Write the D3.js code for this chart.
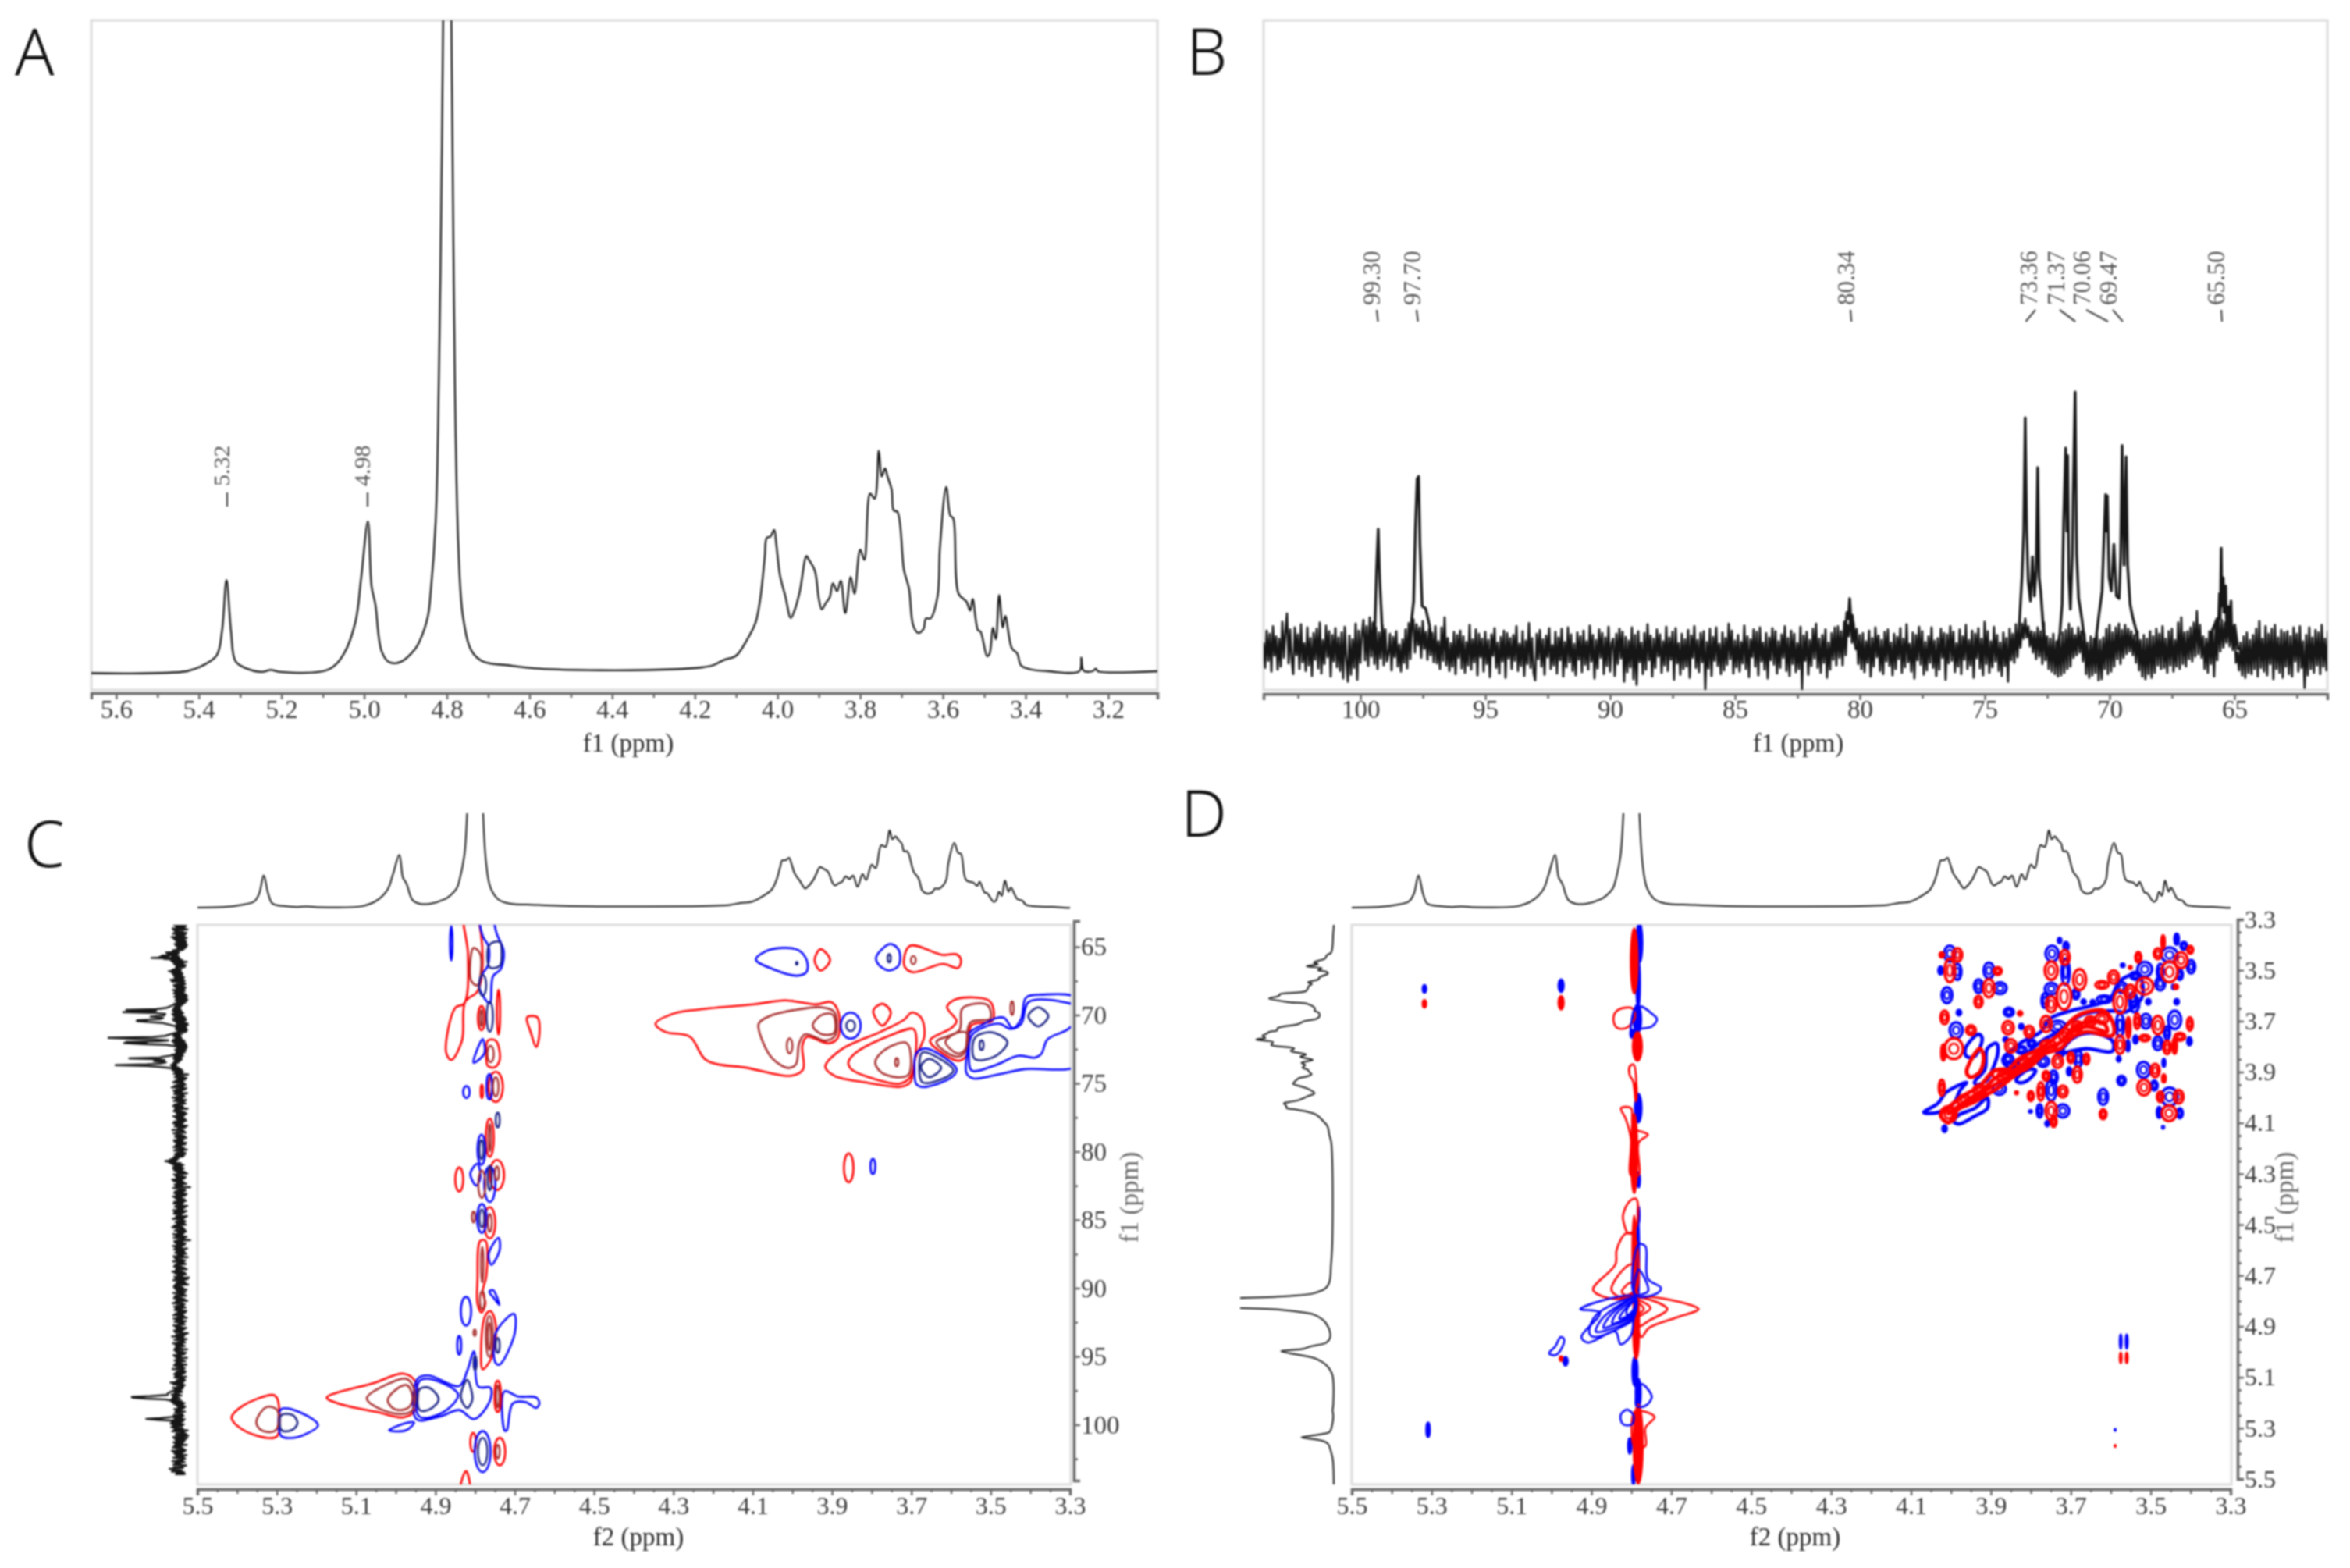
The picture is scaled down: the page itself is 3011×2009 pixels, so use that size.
<!DOCTYPE html>
<html><head><meta charset="utf-8">
<script src="https://cdn.jsdelivr.net/npm/d3@7"></script>
<style>
html,body{margin:0;padding:0;background:#fff}
svg{display:block;filter:blur(1px)}
text{font-family:"Liberation Serif",serif;fill:#3a3a3a}
.letter{font-family:"Noto Sans",sans-serif;font-weight:300;font-size:83px;fill:#111}
</style></head><body>
<svg id="c" width="3011" height="2009"></svg>
<script>
// ---------- 1H spectrum (ppm, relative intensity) ----------
const protonPpm=[5.661,5.429,5.393,5.357,5.344,5.333,5.322,5.311,5.284,5.248,5.226,5.203,5.085,5.049,5.021,5.007,4.991,4.982,4.973,4.958,4.940,4.913,4.877,4.866,4.846,4.839,4.827,4.819,4.812,4.809,4.800,4.789,4.785,4.780,4.772,4.761,4.740,4.713,4.650,4.578,4.433,4.252,4.182,4.157,4.131,4.100,4.075,4.053,4.041,4.031,4.026,4.017,4.008,4.003,3.994,3.981,3.968,3.958,3.946,3.930,3.924,3.910,3.900,3.893,3.883,3.874,3.866,3.856,3.847,3.836,3.823,3.814,3.800,3.790,3.776,3.765,3.755,3.748,3.740,3.734,3.724,3.719,3.710,3.694,3.682,3.672,3.660,3.647,3.641,3.630,3.613,3.607,3.592,3.582,3.575,3.562,3.543,3.534,3.528,3.515,3.509,3.493,3.487,3.479,3.472,3.464,3.455,3.449,3.433,3.420,3.411,3.389,3.345,3.270,3.265,3.260,3.238,3.230,3.225,3.081];
const protonI=[-0.3,0,0.8,2.4,6.1,14,6.1,1.5,0.4,-0.1,0.2,-0.1,0.3,2.7,7.6,14.5,23,13,10.3,3.1,1.4,1.4,3.4,4.6,8.4,12.2,23,46,80,100,150,100,72,42,19,8.4,3.1,1.5,0.9,0.4,0.15,0.3,0.6,0.9,1.7,2.4,4.7,7.5,11.5,17.5,20.5,20.7,21.7,19.5,14.7,11.5,8.2,9.5,12.3,17.7,17.1,15.5,11.1,9.5,10.5,11.3,13.5,12.3,13.9,8.9,14.5,11.9,18.7,17.1,27.3,26.5,33.9,29.9,31.2,29.9,27.9,24.7,24.5,15.5,12.7,7.1,5.9,6.5,8.1,8.1,11.5,19.1,28.3,23.9,23.5,11.9,10.7,9.3,11.1,6.3,6.1,2.3,2.7,6.7,4.9,11.7,6.7,8.5,3.5,2.7,0.9,0.3,0,0,2.1,0.1,0,0.4,0,0];
const protonTicks=[5.6,5.4,5.2,5.0,4.8,4.6,4.4,4.2,4.0,3.8,3.6,3.4,3.2];
const protonMinor=[5.5,5.3,5.1,4.9,4.7,4.5,4.3,4.1,3.9,3.7,3.5,3.3];
const protonPeaks=[5.32,4.98];
const protonPeakLabels=["5.32","4.98"];

// ---------- 13C spectrum: baseline noise, one row per ppm, tenths of an intensity unit, from 103.88 ppm down ----------
const noiseStart=103.88, noiseStep=0.0625;
const carbonNoise=[
12,-28,31,-17,26,-34,38,-9,22,-31,18,-26,45,-12,29,58,
-21,33,-14,-38,36,-8,25,-30,41,-19,11,-33,36,-24,19,-41,
27,-15,34,-29,44,-37,16,-22,39,-11,30,-42,24,-18,35,-27,
20,-33,28,-45,37,-14,-50,23,-39,17,-28,42,-47,31,-20,26,
48,-16,38,-25,52,-10,44,-22,36,-30,28,-13,40,-24,33,-18,
-6,26,-32,21,-11,30,-26,9,-34,17,-20,33,-29,43,-14,38,
49,-4,41,8,36,-12,46,2,29,-15,34,-8,27,-19,38,-21,
14,-30,36,-17,52,-24,19,-33,11,-26,29,-38,24,-12,31,-29,
22,-36,13,-24,40,-31,17,-19,33,-40,26,-11,18,-34,29,-22,
16,-43,25,-9,35,-28,12,-37,21,-18,31,-44,27,-13,19,-30,
24,-17,38,-33,10,-25,30,-41,15,-22,43,-28,19,-36,-48,26,
-14,32,-26,17,-39,23,-11,35,-30,8,-24,29,-37,20,-16,34,
-42,13,-27,36,-19,25,-33,10,-40,28,-15,22,-35,31,-23,14,
-31,39,-18,24,-45,16,-29,33,-12,27,-38,20,-25,37,-34,11,
18,-41,26,-22,34,-13,29,-50,21,-35,15,-27,36,-46,24,-55,
30,-19,12,-38,27,-31,41,-16,23,-42,18,-28,33,-10,25,-36,
14,-24,37,-33,20,-15,29,-47,35,-21,11,-39,26,-30,17,-26,
32,-44,23,-12,38,-28,16,-35,27,-19,30,-62,13,-29,34,-41,
21,-17,36,-25,10,-38,28,-32,19,-23,42,-14,31,-37,15,-27,
24,-34,13,-21,39,-30,22,-43,17,-11,33,-26,29,-40,36,-18,
12,-31,27,-45,20,-16,35,-23,30,-37,14,-28,25,-12,38,-33,
19,-41,31,-22,26,-35,11,-30,37,-62,23,-17,29,-39,16,-25,
34,-13,42,-28,18,-36,24,-20,33,-44,12,-31,27,-15,36,-24,
38,-12,30,-24,45,-8,40,22,58,12,44,16,34,-22,24,-30,
27,-35,14,-20,31,-42,19,-26,36,-11,23,-33,16,-38,29,-18,
33,-25,12,-40,26,-30,21,-14,35,-36,18,-27,41,-19,10,-34,
28,-45,24,-16,37,-23,30,-39,13,-32,22,-20,36,-28,15,-41,
19,-31,34,-12,27,-47,25,-21,38,-17,29,-35,11,-26,33,-38,
22,-15,40,-30,16,-24,31,-44,26,-13,35,-29,18,-40,45,-22,
30,-36,14,-27,37,-18,24,-33,12,-41,28,-25,19,-50,34,-16,
26,-20,41,-11,33,4,42,18,50,20,38,6,30,-4,28,-14,
36,-10,30,-22,44,-16,22,-30,18,-34,26,-38,14,-42,20,-40,
28,-36,32,-30,42,-26,35,-12,24,-8,36,-4,30,-18,26,-38,
12,-44,22,-40,18,-36,26,-48,16,-46,20,-30,34,-38,40,-34,
28,-26,36,-14,42,-22,32,-12,40,-6,34,-2,30,-8,24,-20,
30,-32,16,-42,24,-46,18,-38,30,-44,22,-36,34,-24,26,-30,
38,-28,18,-36,30,-24,34,-34,16,-26,44,-30,52,-22,28,-26,
30,-14,36,-18,44,-10,62,-6,40,-12,22,-30,18,-36,30,-22,
34,-42,38,-16,52,-2,48,4,44,12,50,6,40,0,32,-20,
-4,-32,12,-40,22,-44,28,-36,16,-38,24,-30,34,-42,46,-28,
18,-34,38,-40,26,-22,34,-46,40,-30,20,-36,32,-44,28,-26,
30,-38,22,-42,36,-18,26,-34,38,-28,14,-60,24,-40,36,-30,
20,-36,32,-24,28,-38,40,-26,18,-32,30,-44,26,-20,34,-36
];
const peak99=[[99.5,0],[99.42,4.1],[99.36,12.3],[99.29,19.2],[99.23,11.1],[99.14,4.1],[99.0,0]];
const peak97=[[98.05,0],[97.96,4.5],[97.87,7.8],[97.80,19.4],[97.73,27.2],[97.67,27.6],[97.62,16.9],[97.53,7],[97.39,6.6],[97.24,4],[97.1,0]];
const peak80=[[80.7,0],[80.6,2.5],[80.52,6],[80.46,5],[80.41,8.2],[80.36,5],[80.3,5.5],[80.24,2],[80.15,0]];
const peak73=[[73.75,0],[73.63,3.2],[73.51,11.5],[73.44,18.9],[73.38,36.9],[73.32,18.9],[73.26,11],[73.17,7.8],[73.09,14.8],[73.01,8.6],[72.94,12.7],[72.88,29],[72.82,11.5],[72.76,9.4],[72.64,2.8],[72.5,0]];
const peak71=[[72.1,0],[71.99,2.8],[71.90,7.3],[71.84,20.6],[71.76,32.1],[71.71,18.9],[71.68,30.9],[71.63,11.5],[71.57,6.5],[71.49,15.2],[71.46,24.3],[71.38,41],[71.32,15.2],[71.24,8.2],[71.11,4.9],[70.95,0]];
const peak70=[[70.6,0],[70.45,4.9],[70.30,9.4],[70.23,17.3],[70.16,24.7],[70.12,18.9],[70.09,24.5],[70.02,11.5],[69.93,9.4],[69.83,16.8],[69.73,8.6],[69.62,8.2],[69.56,14.8],[69.50,32.5],[69.42,13.5],[69.34,30.7],[69.28,13.5],[69.18,7.3],[69.08,5.3],[68.94,3.2],[68.8,0]];
const peak65=[[66.1,0],[65.92,2.8],[65.7,5],[65.66,2],[65.6,9],[65.57,5],[65.53,16.2],[65.5,7],[65.45,11.5],[65.42,6],[65.35,10.2],[65.32,4],[65.25,6.9],[65.22,3],[65.14,7.8],[65.1,2],[64.99,4],[64.85,0]];
const carbonTicks=[100,95,90,85,80,75,70,65];
const carbonMinor=[102.5,97.5,92.5,87.5,82.5,77.5,72.5,67.5,62.5];
const carbonPeaks=[99.30,97.70,80.34,73.36,71.37,70.06,69.47,65.50];
const carbonPeakLabels=["99.30","97.70","80.34","73.36","71.37","70.06","69.47","65.50"];

// ---------- 2D axes ----------
const f2Ticks=[5.5,5.3,5.1,4.9,4.7,4.5,4.3,4.1,3.9,3.7,3.5,3.3];
const f2Minor=[5.4,5.2,5.0,4.8,4.6,4.4,4.2,4.0,3.8,3.6,3.4];
const f2Fine=[5.45,5.35,5.25,5.15,5.05,4.95,4.85,4.75,4.65,4.55,4.45,4.35,4.25,4.15,4.05,3.95,3.85,3.75,3.65,3.55,3.45,3.35];
const hsqcF1Ticks=[65,70,75,80,85,90,95,100];
const hsqcF1Minor=[67.5,72.5,77.5,82.5,87.5,92.5,97.5,102.5];
const noesyF1Ticks=[3.3,3.5,3.7,3.9,4.1,4.3,4.5,4.7,4.9,5.1,5.3,5.5];
const noesyF1Minor=[3.35,3.4,3.45,3.55,3.6,3.65,3.75,3.8,3.85,3.95,4.0,4.05,4.15,4.2,4.25,4.35,4.4,4.45,4.55,4.6,4.65,4.75,4.8,4.85,4.95,5.0,5.05,5.15,5.2,5.25,5.35,5.4,5.45];

// ---------- Panel C contours, [f2, f1] ----------
const hsqcRedOuter=[
[[4.345,70.35],[4.298,69.59],[4.236,69.31],[4.096,68.93],[4.018,68.64],[3.940,68.93],[3.902,68.77],[3.884,69.50],[3.886,71.40],[3.909,71.78],[3.964,71.31],[3.975,71.97],[3.973,73.69],[4.003,74.16],[4.112,73.59],[4.217,73.02],[4.258,71.31],[4.322,70.93]],
[[3.917,73.50],[3.878,72.26],[3.777,70.93],[3.719,70.07],[3.699,69.53],[3.676,69.88],[3.667,71.21],[3.691,72.93],[3.703,74.64],[3.726,74.96],[3.816,74.64],[3.894,74.16]],
[[3.859,73.21],[3.843,72.54],[3.754,71.21],[3.695,70.73],[3.688,71.21],[3.703,74.26],[3.730,74.74],[3.808,74.26],[3.851,73.69]],
[[3.653,71.59],[3.598,70.64],[3.586,70.16],[3.610,69.12],[3.586,68.54],[3.505,68.64],[3.493,69.31],[3.497,70.16],[3.548,70.45],[3.558,72.54],[3.579,73.06],[3.629,72.35]],
[[3.719,65.69],[3.703,64.64],[3.621,65.31],[3.586,65.27],[3.575,65.69],[3.582,66.26],[3.621,65.97],[3.695,66.58],[3.715,66.26]],
[[3.944,65.69],[3.929,64.89],[3.905,65.69],[3.929,66.45]],
[[3.796,69.40],[3.773,68.89],[3.752,69.50],[3.773,70.49]],
[[5.414,99.21],[5.387,98.35],[5.309,97.53],[5.299,97.78],[5.299,100.54],[5.322,100.69],[5.387,100.06]],
[[5.174,97.72],[5.053,96.64],[4.981,95.97],[4.951,96.54],[4.951,98.64],[4.981,99.17],[5.046,98.79],[5.145,98.16]],
[[4.827,62.4],[4.818,65.24],[4.827,68.85],[4.850,69.18],[4.873,72.46],[4.860,73.0],[4.833,71.58],[4.825,68.74],[4.794,67.97],[4.781,65.57],[4.800,62.4]],
[[4.669,69.88],[4.643,69.88],[4.638,71.15],[4.646,72.06],[4.659,71.04]],
[[4.772,72.68],[4.768,71.58],[4.748,71.58],[4.738,73.0],[4.751,73.55],[4.768,73.44]],
[[4.794,89.09],[4.787,86.24],[4.774,86.24],[4.772,88.87],[4.781,89.96],[4.774,90.84],[4.784,91.5],[4.794,90.84]],
[[4.785,94.34],[4.774,91.71],[4.761,91.4],[4.748,92.4],[4.758,94.78],[4.781,95.65]],
[[4.836,104.6],[4.836,104.06],[4.823,103.11],[4.813,104.06],[4.813,104.6]]
];
const hsqcRedInner=[
[[4.085,70.35],[4.057,69.78],[3.987,69.31],[3.925,69.15],[3.894,69.50],[3.892,71.21],[3.917,71.59],[3.968,71.12],[3.983,71.78],[3.991,73.31],[4.011,73.59],[4.049,72.93],[4.073,71.78]],
[[3.948,70.35],[3.925,69.69],[3.898,69.69],[3.895,71.02],[3.925,71.12],[3.947,70.64]],
[[3.791,73.12],[3.762,72.16],[3.711,71.78],[3.707,74.07],[3.738,74.26],[3.777,73.88]],
[[3.637,71.69],[3.579,70.83],[3.571,69.21],[3.509,68.96],[3.501,69.97],[3.551,70.26],[3.567,72.54],[3.590,72.74]],
[[3.614,71.69],[3.586,71.02],[3.561,71.02],[3.563,72.16],[3.582,72.54]],
[[5.351,99.40],[5.325,98.41],[5.299,98.64],[5.301,100.06],[5.322,100.25],[5.345,99.97]],
[[5.073,97.78],[5.013,96.64],[4.974,96.35],[4.954,97.11],[4.958,98.64],[4.981,98.92],[5.033,98.64]],
[[5.020,97.87],[4.994,97.02],[4.971,96.83],[4.958,97.68],[4.967,98.44],[4.994,98.64],[5.013,98.35]],
[[4.810,67.2],[4.804,64.8],[4.787,65.24],[4.794,67.53]]
];
const hsqcBlueOuter=[
[[4.092,65.65],[4.057,64.93],[3.987,64.93],[3.964,65.69],[3.964,66.54],[3.987,66.83],[4.049,66.35]],
[[3.789,65.50],[3.754,64.51],[3.732,64.93],[3.732,66.07],[3.755,66.45],[3.781,66.07]],
[[3.692,73.69],[3.688,72.54],[3.664,72.16],[3.586,73.69],[3.598,74.26],[3.672,74.98],[3.688,74.74]],
[[3.553,71.02],[3.528,70.54],[3.485,69.92],[3.466,69.92],[3.444,70.68],[3.423,69.97],[3.411,68.45],[3.372,68.22],[3.271,68.64],[3.271,73.27],[3.419,73.69],[3.489,74.11],[3.544,74.35],[3.561,73.97],[3.559,72.35]],
[[3.548,71.21],[3.520,70.64],[3.477,70.35],[3.450,70.73],[3.423,70.35],[3.403,68.73],[3.271,69.31],[3.302,70.68],[3.357,71.50],[3.372,72.54],[3.388,72.83],[3.431,72.70],[3.489,73.40],[3.548,73.78],[3.555,72.73]],
[[5.290,98.60],[5.256,98.64],[5.196,99.74],[5.230,100.44],[5.266,100.69],[5.289,100.54]],
[[4.945,96.35],[4.918,96.10],[4.840,96.88],[4.820,95.78],[4.803,94.35],[4.792,96.92],[4.761,97.02],[4.764,98.06],[4.803,99.30],[4.840,98.64],[4.889,99.11],[4.948,99.30]],
[[4.941,96.54],[4.918,96.35],[4.843,97.49],[4.882,98.83],[4.941,99.11]],
[[4.725,100.16],[4.726,97.26],[4.692,97.64],[4.646,97.72],[4.638,98.16],[4.646,98.48],[4.672,98.06],[4.705,98.16],[4.720,100.12]],
[[5.017,100.12],[4.974,99.59],[4.954,99.55],[4.974,100.12]],
[[4.787,62.4],[4.781,63.92],[4.766,64.69],[4.768,66.11],[4.783,66.77],[4.789,67.75],[4.763,68.85],[4.755,66.88],[4.735,66.33],[4.728,65.02],[4.745,63.81],[4.761,62.4]],
[[4.804,73.2],[4.781,71.47],[4.776,72.46],[4.787,72.9]],
[[4.812,81.32],[4.794,80.6],[4.787,81.65],[4.797,82.2]],
[[4.766,87.23],[4.741,86.03],[4.738,86.9],[4.759,88.0]],
[[4.764,89.96],[4.755,89.85],[4.739,90.95],[4.751,90.5]],
[[4.748,95.2],[4.748,93.0],[4.702,91.6],[4.700,93.0],[4.738,95.3]]
];
const hsqcBlueInner=[
[[3.680,73.50],[3.672,72.45],[3.594,73.73],[3.606,74.16],[3.672,74.64]],
[[3.676,73.50],[3.656,72.93],[3.625,73.59],[3.656,74.26]],
[[3.540,71.40],[3.497,70.98],[3.458,71.69],[3.489,72.73],[3.540,72.93]],
[[3.405,69.78],[3.380,69.15],[3.355,69.78],[3.380,70.54]],
[[5.289,99.02],[5.259,99.02],[5.248,99.63],[5.263,100.12],[5.288,100.12]],
[[4.940,97.11],[4.915,97.02],[4.892,97.87],[4.915,98.60],[4.940,98.64]],
[[4.836,97.68],[4.820,96.44],[4.807,97.87],[4.820,98.48]],
[[4.764,64.58],[4.738,64.36],[4.733,65.24],[4.738,66.11],[4.763,66.22]]
];
// ovals: [f2, f1, half-width in f2, half-height in f1]
const hsqcRedOvals=[[4.743,97.64,.008,1.15],[4.805,101.0,.007,.7],[4.738,101.68,.014,1.0],[4.784,69.94,.009,.88],[4.741,69.5,.004,1.65],[4.748,74.97,.018,1.1],[4.783,75.3,.003,.5],[4.763,78.7,.010,1.4],[4.840,81.76,.010,.88],[4.745,81.43,.018,1.1],[4.763,84.93,.014,1.14],[3.858,80.9,.012,1.05]];
const hsqcRedCores=[[3.695,65.69,.006,.3],[4.007,71.97,.007,.55],[3.737,73.17,.004,.3],[3.446,69.21,.004,.5],[4.743,101.68,.005,.5],[4.743,97.64,.004,.8],[4.784,69.94,.003,.6],[4.761,72.57,.008,.6],[4.748,74.97,.007,.7],[4.763,78.7,.003,1.0],[4.745,81.3,.005,.5],[4.783,82.1,.009,1.0],[4.804,84.5,.004,.4],[4.763,84.93,.005,.65],[4.782,88,.003,1.3],[4.782,90.6,.006,.66],[4.801,92.98,.003,.22],[4.764,93.25,.009,1.5],[4.764,93.25,.004,1.0]];
const hsqcBlueOvals=[[3.853,70.49,.025,.95],[4.860,64.47,.003,1.25],[4.764,74.97,.007,.92],[4.781,101.68,.020,1.5],[4.784,79.57,.010,1.1],[4.763,82.1,.014,1.3],[4.783,84.6,.012,1.05],[4.823,91.4,.013,1.05],[4.840,93.9,.005,.7],[4.822,75.35,.008,.44],[3.797,80.8,.006,.55]];
const hsqcBlueCores=[[3.853,70.49,.011,.4],[3.989,65.92,.002,.1],[3.756,65.55,.004,.3],[3.523,71.92,.005,.35],[4.781,101.68,.012,1.0],[4.781,67.53,.009,.77],[4.763,69.83,.008,1.1],[4.743,77.4,.005,.55],[4.784,79.57,.005,.7],[4.763,81.65,.005,.9],[4.783,84.6,.006,.65],[4.743,93.9,.005,.55],[4.800,95.2,.004,.5]];

// ---------- Panel D contours ----------
const noesyRedLoops=[
[[4.845,3.671],[4.834,3.638],[4.798,3.631],[4.791,3.667],[4.814,3.710],[4.837,3.707]],
[[4.804,3.861],[4.795,3.854],[4.788,3.919],[4.791,3.969],[4.796,3.919],[4.804,3.897]],
[[4.826,4.027],[4.801,4.027],[4.795,4.106],[4.759,4.132],[4.782,4.164],[4.782,4.294],[4.801,4.294],[4.801,4.15],[4.814,4.070]],
[[4.821,4.452],[4.804,4.395],[4.788,4.387],[4.791,4.510],[4.808,4.524],[4.817,4.495]],
[[4.896,4.748],[4.840,4.647],[4.837,4.589],[4.814,4.524],[4.795,4.531],[4.791,4.762],[4.840,4.784]],
[[4.850,4.748],[4.821,4.668],[4.798,4.647],[4.791,4.755],[4.827,4.776]],
[[4.824,4.755],[4.801,4.719],[4.791,4.748],[4.814,4.769]],
[[4.785,4.783],[4.632,4.824],[4.684,4.856],[4.756,4.899],[4.775,4.935],[4.785,4.870]],
[[4.785,4.783],[4.710,4.824],[4.756,4.870],[4.782,4.892]],
[[4.785,4.791],[4.752,4.820],[4.775,4.848],[4.785,4.855]],
[[4.785,4.798],[4.769,4.824],[4.782,4.841]],
[[4.791,5.230],[4.742,5.252],[4.765,5.295],[4.765,5.367],[4.791,5.374]]
];
const noesyBlueLoops=[
[[4.775,3.624],[4.749,3.652],[4.736,3.674],[4.749,3.703],[4.788,3.717],[4.801,3.746],[4.791,3.631]],
[[4.782,4.567],[4.765,4.575],[4.759,4.704],[4.726,4.740],[4.736,4.762],[4.791,4.769]],
[[4.782,4.668],[4.759,4.733],[4.759,4.755],[4.791,4.766]],
[[4.791,4.776],[4.928,4.824],[4.879,4.839],[4.925,4.935],[4.909,4.957],[4.840,4.913],[4.827,4.964],[4.801,4.928],[4.795,4.870]],
[[4.791,4.783],[4.889,4.849],[4.905,4.921],[4.892,4.935],[4.821,4.892],[4.795,4.863]],
[[4.791,4.783],[4.870,4.856],[4.889,4.913],[4.873,4.913],[4.795,4.856]],
[[4.791,4.783],[4.853,4.849],[4.870,4.899],[4.853,4.892],[4.795,4.848]],
[[4.791,4.791],[4.837,4.841],[4.848,4.881],[4.834,4.877],[4.795,4.841]],
[[4.791,4.791],[4.824,4.841],[4.830,4.863],[4.795,4.834]],
[[4.791,4.791],[4.811,4.824],[4.811,4.848],[4.795,4.827]],
[[4.775,5.122],[4.749,5.172],[4.765,5.208],[4.788,5.208]],
[[4.827,5.245],[4.811,5.223],[4.795,5.245],[4.798,5.281],[4.821,5.281]],
[[5.006,5.000],[4.990,4.971],[4.977,4.935],[4.969,4.942],[4.974,4.978],[4.990,5.007]]
];
const noesyRedSolid=[[4.793,3.443,.009,.130],[4.785,3.782,.012,.058],[4.789,3.962,.003,.04],[4.793,4.207,.008,.158],[4.793,4.625,.005,.173],[4.788,4.885,.008,.137],[4.783,5.360,.012,.158],[4.976,3.609,.007,.028],[5.318,3.613,.005,.016],[4.976,5.021,.004,.01],[3.575,5.018,.003,.022],[3.560,5.018,.003,.022],[3.589,5.367,.002,.005]];
const noesyBlueSolid=[[4.780,3.371,.008,.079],[4.783,3.530,.005,.101],[4.785,3.674,.010,.058],[4.798,3.732,.005,.017],[4.783,4.027,.009,.058],[4.782,4.311,.004,.032],[4.782,4.452,.003,.036],[4.783,4.625,.003,.173],[4.791,5.072,.007,.058],[4.783,5.158,.007,.058],[4.804,5.367,.005,.032],[4.795,5.482,.004,.040],[4.976,3.541,.007,.026],[5.318,3.554,.005,.016],[5.309,5.303,.005,.03],[4.965,5.031,.006,.018],[3.575,4.953,.003,.03],[3.560,4.953,.003,.03],[3.589,5.303,.002,.005]];
const noesyRedBands=[
[[4.026,4.054],[4.006,4.023],[3.967,3.976],[3.928,3.940],[3.892,3.878],[3.857,3.873],[3.831,3.832],[3.778,3.791],[3.726,3.729],[3.694,3.672],[3.661,3.646],[3.616,3.641],[3.593,3.698],[3.596,3.739],[3.661,3.724],[3.700,3.749],[3.726,3.791],[3.765,3.811],[3.798,3.858],[3.837,3.894],[3.866,3.930],[3.902,3.966],[3.941,4.002],[3.983,4.033],[4.006,4.085]],
[[4.006,4.049],[3.961,3.997],[3.922,3.956],[3.886,3.904],[3.844,3.878],[3.811,3.842],[3.765,3.791],[3.726,3.765],[3.694,3.708],[3.648,3.682],[3.616,3.693],[3.609,3.724],[3.661,3.703],[3.700,3.729],[3.733,3.775],[3.772,3.801],[3.811,3.858],[3.857,3.904],[3.902,3.945],[3.941,3.987],[3.980,4.018]],
[[3.961,3.884],[3.928,3.791],[3.918,3.822],[3.928,3.884],[3.951,3.904]]
];
const noesyBlueBands=[
[[3.870,3.837],[3.827,3.770],[3.775,3.724],[3.752,3.672],[3.700,3.641],[3.661,3.626],[3.603,3.595],[3.577,3.522],[3.531,3.497],[3.521,3.584],[3.564,3.646],[3.590,3.641],[3.661,3.651],[3.700,3.682],[3.726,3.718],[3.772,3.760],[3.811,3.811],[3.850,3.868]],
[[4.068,4.044],[4.032,4.007],[4.013,3.966],[3.961,3.925],[3.977,3.956],[3.993,4.007],[4.032,4.044]],
[[3.993,4.080],[3.980,4.054],[3.941,4.028],[3.909,3.987],[3.909,4.028],[3.941,4.059],[3.980,4.090]],
[[3.941,3.925],[3.915,3.873],[3.909,3.791],[3.886,3.770],[3.883,3.811],[3.896,3.873],[3.909,3.914],[3.935,3.935]],
[[3.964,3.791],[3.931,3.734],[3.922,3.749],[3.941,3.822],[3.961,3.822]],
[[3.837,3.914],[3.804,3.873],[3.788,3.878],[3.811,3.920],[3.831,3.925]],
[[3.726,3.811],[3.694,3.749],[3.648,3.729],[3.596,3.760],[3.596,3.801],[3.661,3.791],[3.700,3.801]]
];
const noesyBlueSpots=[[4.003,3.414,.014,.031],[3.984,3.486,.010,.031],[4.026,3.481,.005,.015],[3.905,3.481,.013,.031],[3.931,3.543,.011,.026],[3.877,3.551,.016,.023],[4.010,3.579,.013,.031],[3.980,3.648,.005,.010],[3.987,3.718,.016,.031],[3.855,3.646,.012,.017],[3.824,3.703,.005,.010],[3.863,3.755,.005,.008],[3.747,3.414,.016,.031],[3.728,3.362,.004,.010],[3.712,3.385,.006,.017],[3.713,3.486,.010,.052],[3.749,3.553,.016,.023],[3.765,3.600,.008,.029],[3.687,3.574,.008,.021],[3.645,3.607,.005,.008],[3.668,3.605,.005,.008],[3.681,3.832,.010,.031],[3.769,3.842,.014,.021],[3.704,3.881,.005,.015],[3.743,3.904,.010,.026],[3.749,3.956,.013,.041],[3.879,3.951,.016,.023],[3.720,4.038,.016,.026],[3.778,4.038,.007,.026],[3.759,4.088,.004,.010],[3.801,4.040,.003,.004],[4.016,4.109,.005,.012],[3.515,3.476,.018,.029],[3.570,3.460,.004,.006],[3.506,3.605,.005,.010],[3.541,3.615,.012,.031],[3.435,3.357,.005,.021],[3.453,3.419,.020,.029],[3.417,3.383,.008,.015],[3.476,3.486,.008,.031],[3.427,3.497,.007,.021],[3.399,3.466,.010,.026],[3.476,3.533,.012,.026],[3.443,3.546,.003,.008],[3.435,3.605,.005,.010],[3.577,3.698,.010,.046],[3.557,3.780,.004,.021],[3.538,3.755,.005,.015],[3.512,3.682,.013,.029],[3.440,3.677,.016,.036],[3.482,3.770,.012,.026],[3.459,3.729,.007,.026],[3.403,3.762,.005,.015],[3.580,3.832,.004,.010],[3.518,3.875,.016,.031],[3.467,3.847,.003,.015],[3.573,3.918,.010,.019],[3.491,3.937,.008,.019],[3.619,3.982,.012,.031],[3.453,3.982,.020,.036],[3.479,4.044,.005,.021],[3.427,4.047,.007,.019],[3.469,4.103,.002,.004],[3.726,3.806,.010,.015],[3.857,3.832,.013,.019],[3.824,3.796,.013,.015],[3.798,3.770,.010,.015],[3.733,3.703,.020,.023],[3.616,3.595,.018,.015],[3.573,3.548,.013,.021],[3.538,3.502,.013,.015],[3.544,3.595,.010,.026]];
const noesyRedSpots=[[3.984,3.419,.012,.026],[4.023,3.419,.005,.010],[4.003,3.481,.013,.046],[3.883,3.483,.010,.015],[3.905,3.551,.014,.036],[3.931,3.605,.010,.023],[4.016,3.667,.010,.026],[3.950,3.718,.012,.019],[3.993,3.791,.023,.041],[4.019,3.806,.005,.031],[3.827,3.651,.005,.008],[3.857,3.708,.014,.026],[3.804,3.724,.012,.023],[3.762,3.693,.014,.031],[3.850,3.780,.014,.026],[3.715,3.429,.012,.029],[3.749,3.481,.016,.036],[3.678,3.517,.016,.041],[3.717,3.584,.018,.052],[3.749,3.615,.013,.031],[3.700,3.827,.008,.021],[3.661,3.832,.007,.021],[3.733,3.842,.013,.026],[3.684,3.894,.011,.031],[3.762,3.899,.008,.019],[3.720,3.961,.012,.023],[3.775,3.961,.008,.036],[3.800,3.979,.007,.019],[3.836,3.966,.003,.005],[3.749,4.038,.014,.036],[3.743,4.080,.007,.021],[3.531,3.429,.007,.021],[3.515,3.543,.021,.033],[3.551,3.469,.003,.005],[3.577,3.605,.016,.046],[3.551,3.564,.012,.026],[3.622,3.538,.016,.015],[3.593,3.507,.013,.026],[3.469,3.368,.004,.026],[3.482,3.414,.010,.021],[3.401,3.399,.007,.015],[3.424,3.440,.016,.031],[3.453,3.486,.020,.041],[3.437,3.546,.005,.008],[3.556,3.708,.005,.041],[3.534,3.682,.007,.031],[3.482,3.698,.014,.036],[3.402,3.693,.007,.026],[3.577,3.775,.012,.036],[3.515,3.749,.013,.012],[3.459,3.786,.009,.026],[3.440,3.780,.005,.031],[3.427,3.744,.013,.015],[3.489,3.878,.011,.026],[3.467,3.909,.004,.015],[3.517,3.945,.016,.031],[3.619,4.051,.008,.019],[3.476,3.982,.008,.021],[3.430,3.982,.012,.026],[3.454,4.047,.018,.031],[4.023,3.946,.007,.031],[4.006,4.051,.020,.031],[4.006,4.054,.018,.029],[3.967,3.997,.016,.023],[3.928,3.956,.016,.021],[3.870,3.894,.026,.023],[3.818,3.847,.020,.021],[3.756,3.780,.020,.023],[3.713,3.739,.016,.026],[3.684,3.703,.013,.021],[3.622,3.672,.016,.021],[3.651,3.682,.014,.019]];

// ---------- Layout ----------
const svg=d3.select("#c");
const RED="#ff0000",DRED="#a82c2c",BLUE="#0000ff",DBLUE="#1a2285",FRAME="#dcdcdc",AXIS="#6a6a6a",INK="#161616";
const defs=svg.append("defs");
let clipN=0;
function clip(x,y,w,h){const id="cl"+(clipN++);defs.append("clipPath").attr("id",id).append("rect").attr("x",x).attr("y",y).attr("width",w).attr("height",h);return "url(#"+id+")";}
function letter(t,x,y){svg.append("text").attr("class","letter").attr("x",x).attr("y",y).text(t);}
function frame(x0,y0,x1,y1){svg.append("rect").attr("x",x0).attr("y",y0).attr("width",x1-x0).attr("height",y1-y0).attr("fill","none").attr("stroke",FRAME).attr("stroke-width",3);}
function axisBottom(scale,y,major,minor,fine,fmt,fontSize,labelDy){
  const g=svg.append("g").attr("transform","translate(0,"+y+")");
  if(fine){const a=g.append("g").call(d3.axisBottom(scale).tickValues(fine).tickSize(4).tickFormat(""));a.select(".domain").remove();a.selectAll("line").attr("stroke",AXIS).attr("stroke-width",2);}
  const m=g.append("g").call(d3.axisBottom(scale).tickValues(minor).tickSize(6).tickFormat(""));m.select(".domain").remove();m.selectAll("line").attr("stroke",AXIS).attr("stroke-width",2.5);
  const a=g.append("g").call(d3.axisBottom(scale).tickValues(major).tickSize(8).tickPadding(labelDy).tickFormat(fmt));
  a.select(".domain").attr("stroke",AXIS).attr("stroke-width",3.5);
  a.selectAll("line").attr("stroke",AXIS).attr("stroke-width",2.5);
  a.selectAll("text").style("font-size",fontSize+"px").attr("fill","#3a3a3a");
}
function axisRight(scale,x,major,minor,fmt,fontSize){
  const g=svg.append("g").attr("transform","translate("+x+",0)");
  const m=g.append("g").call(d3.axisRight(scale).tickValues(minor).tickSize(5).tickFormat(""));m.select(".domain").remove();m.selectAll("line").attr("stroke",AXIS).attr("stroke-width",2.5);
  const a=g.append("g").call(d3.axisRight(scale).tickValues(major).tickSize(8).tickPadding(1).tickFormat(fmt));
  a.select(".domain").attr("stroke",AXIS).attr("stroke-width",3.5);
  a.selectAll("line").attr("stroke",AXIS).attr("stroke-width",2.5);
  a.selectAll("text").style("font-size",fontSize+"px").attr("fill","#3a3a3a");
}
function title(t,x,y,size,rot,fill){const s=svg.append("text").attr("text-anchor","middle").attr("font-size",size).style("fill",fill||"#2a2a2a").text(t);
  if(rot)s.attr("transform","translate("+x+","+y+") rotate(-90)");else s.attr("x",x).attr("y",y);}
const f1=d3.format(".1f"),f0=d3.format("d");
const zipProton=protonPpm.map((p,i)=>[p,protonI[i]]);
const noisePts=carbonNoise.map((v,i)=>[noiseStart-i*noiseStep,v/10]);
const carbonClusters=[peak99,peak97,peak80,peak73,peak71,peak70,peak65];

function trace(parent,data,xf,yf,w,clipUrl,curved){const l=d3.line().x(xf).y(yf);if(curved)l.curve(d3.curveCatmullRom.alpha(0.5));
  parent.append("path").attr("d",l(data)).attr("fill","none").attr("stroke",INK).attr("stroke-width",w).attr("stroke-linejoin","round").attr("clip-path",clipUrl);}
function loops(g,data,sx,sy,col,w){g.append("g").selectAll("path").data(data).join("path").attr("d",d3.line().x(d=>sx(d[0])).y(d=>sy(d[1])).curve(d3.curveCatmullRomClosed.alpha(0.5))).attr("fill","none").attr("stroke",col).attr("stroke-width",w).attr("stroke-linejoin","round");}
function ovals(g,data,sx,sy,col,w,filled,scale){const k=scale||1;g.append("g").selectAll("ellipse").data(data).join("ellipse")
  .attr("cx",d=>sx(d[0])).attr("cy",d=>sy(d[1])).attr("rx",d=>k*Math.abs(sx(d[0]+d[2])-sx(d[0]))).attr("ry",d=>k*Math.abs(sy(d[1]+d[3])-sy(d[1])))
  .attr("fill",filled?col:"none").attr("stroke",col).attr("stroke-width",w);}

// ---------- Panel A ----------
letter("A",19,96);
const ax=d3.scaleLinear().domain([5.660,3.081]).range([117,1483]);
const ay=d3.scaleLinear().domain([0,100]).range([860,26]);
frame(117,26,1483,884);
axisBottom(ax,888,protonTicks,protonMinor,null,f1,33,1);
title("f1 (ppm)",805,963,33);
trace(svg,zipProton,d=>ax(d[0]),d=>ay(d[1]),2.3,clip(117,26,1366,858),true);
protonPeaks.forEach((p,i)=>{const x=[291,471][i];
  svg.append("line").attr("x1",x).attr("x2",x).attr("y1",631).attr("y2",649).attr("stroke","#444").attr("stroke-width",2.2);
  svg.append("text").attr("transform","translate("+(x+3)+",623) rotate(-90)").style("font-size","30px").style("fill","#555").text(protonPeakLabels[i]);});

// ---------- Panel B ----------
letter("B",1520,96);
const bx=d3.scaleLinear().domain([103.88,61.28]).range([1619,2982]);
const by=d3.scaleLinear().domain([0,100]).range([833,26]);
frame(1619,26,2982,884);
axisBottom(bx,889,carbonTicks,carbonMinor,null,f0,33,0);
title("f1 (ppm)",2304,963,33);
const bClip=clip(1619,26,1363,858);
trace(svg,noisePts,d=>bx(d[0]),d=>by(d[1]),2.7,bClip);
carbonClusters.forEach(c=>trace(svg,c,d=>bx(d[0]),d=>by(d[1]),3.4,bClip));
const carbonLabelX=[1759,1811,2367,2601,2636,2669,2703,2841],carbonTipX=[1764,1815,2371,2608,2639,2673,2707,2846];
carbonPeaks.forEach((p,i)=>{
  svg.append("path").attr("d",d3.line()([[carbonTipX[i],397],[bx(p),412]])).attr("stroke","#444").attr("stroke-width",2.2).attr("fill","none");
  svg.append("text").attr("transform","translate("+(carbonLabelX[i]+9)+",391) rotate(-90)").style("font-size","31px").style("fill","#555").text(carbonPeakLabels[i]);});

// ---------- Panel C ----------
letter("C",31,1111);
const cx=d3.scaleLinear().domain([5.5,3.3]).range([253,1371]);
const cy=d3.scaleLinear().domain([63.11,104.09]).range([1185,1902]);
const cyAxis=d3.scaleLinear().domain([63.11,104.09]).range([1180,1897]);
const topY=d3.scaleLinear().domain([0,41.4]).range([1162,1042]);
frame(253,1185,1372,1902);
axisBottom(cx,1908,f2Ticks,f2Minor,f2Fine,f1,32,1);
axisRight(cyAxis,1376,hsqcF1Ticks,hsqcF1Minor,f0,33);
title("f2 (ppm)",818,1980,33);
title("f1 (ppm)",1458,1534,33,true,"#666");
trace(svg,zipProton,d=>cx(d[0]),d=>topY(d[1]),2,clip(253,1042,1118,130),true);
const cLeft=d3.scaleLinear().domain([0,41]).range([230,139]);
const cLeftClip=clip(120,1185,130,705);
trace(svg,noisePts,d=>cLeft(d[1]),d=>cy(d[0]),2.4,cLeftClip);
carbonClusters.forEach(c=>trace(svg,c,d=>cLeft(d[1]),d=>cy(d[0]),2.4,cLeftClip));
const cg=svg.append("g").attr("clip-path",clip(253,1185,1119,717));
loops(cg,hsqcRedOuter,cx,cy,RED,2.6);
loops(cg,hsqcBlueOuter,cx,cy,BLUE,2.6);
ovals(cg,hsqcRedOvals,cx,cy,RED,2.6,false);
ovals(cg,hsqcBlueOvals,cx,cy,BLUE,2.6,false);
loops(cg,hsqcRedInner,cx,cy,DRED,2.6);
loops(cg,hsqcBlueInner,cx,cy,DBLUE,2.6);
ovals(cg,hsqcRedCores,cx,cy,DRED,2.4,false);
ovals(cg,hsqcBlueCores,cx,cy,DBLUE,2.4,false);

// ---------- Panel D ----------
letter("D",1513,1072);
const dx=d3.scaleLinear().domain([5.5,3.3]).range([1732,2858]);
const dy=d3.scaleLinear().domain([3.3,5.52]).range([1185,1902]);
const dyAxis=d3.scaleLinear().domain([3.3,5.5]).range([1178,1895]);
frame(1732,1185,2859,1902);
axisBottom(dx,1908,f2Ticks,f2Minor,f2Fine,f1,32,1);
axisRight(dyAxis,2867,noesyF1Ticks,noesyF1Minor,f1,32);
title("f2 (ppm)",2300,1980,33);
title("f1 (ppm)",2938,1534,33,true,"#666");
trace(svg,zipProton,d=>dx(d[0]),d=>topY(d[1]),2,clip(1732,1042,1126,130),true);
const dLeft=d3.scaleLinear().domain([0,41]).range([1708,1589]);
trace(svg,zipProton,d=>dLeft(d[1]),d=>dy(d[0]),2,clip(1589,1185,130,717),true);
const dg=svg.append("g").attr("clip-path",clip(1732,1185,1127,717));
ovals(dg,noesyBlueSolid,dx,dy,BLUE,2,true);
ovals(dg,noesyRedSolid,dx,dy,RED,2,true);
loops(dg,noesyRedLoops,dx,dy,RED,2.6);
loops(dg,noesyBlueLoops,dx,dy,BLUE,2.6);
ovals(dg,noesyBlueSpots,dx,dy,BLUE,3.6,false);
ovals(dg,noesyBlueSpots,dx,dy,BLUE,2.6,false,0.5);
loops(dg,noesyBlueBands,dx,dy,BLUE,4.6);
ovals(dg,noesyRedSpots,dx,dy,RED,3.6,false);
ovals(dg,noesyRedSpots,dx,dy,RED,2.6,false,0.5);
loops(dg,noesyRedBands,dx,dy,RED,5);
</script></body></html>
